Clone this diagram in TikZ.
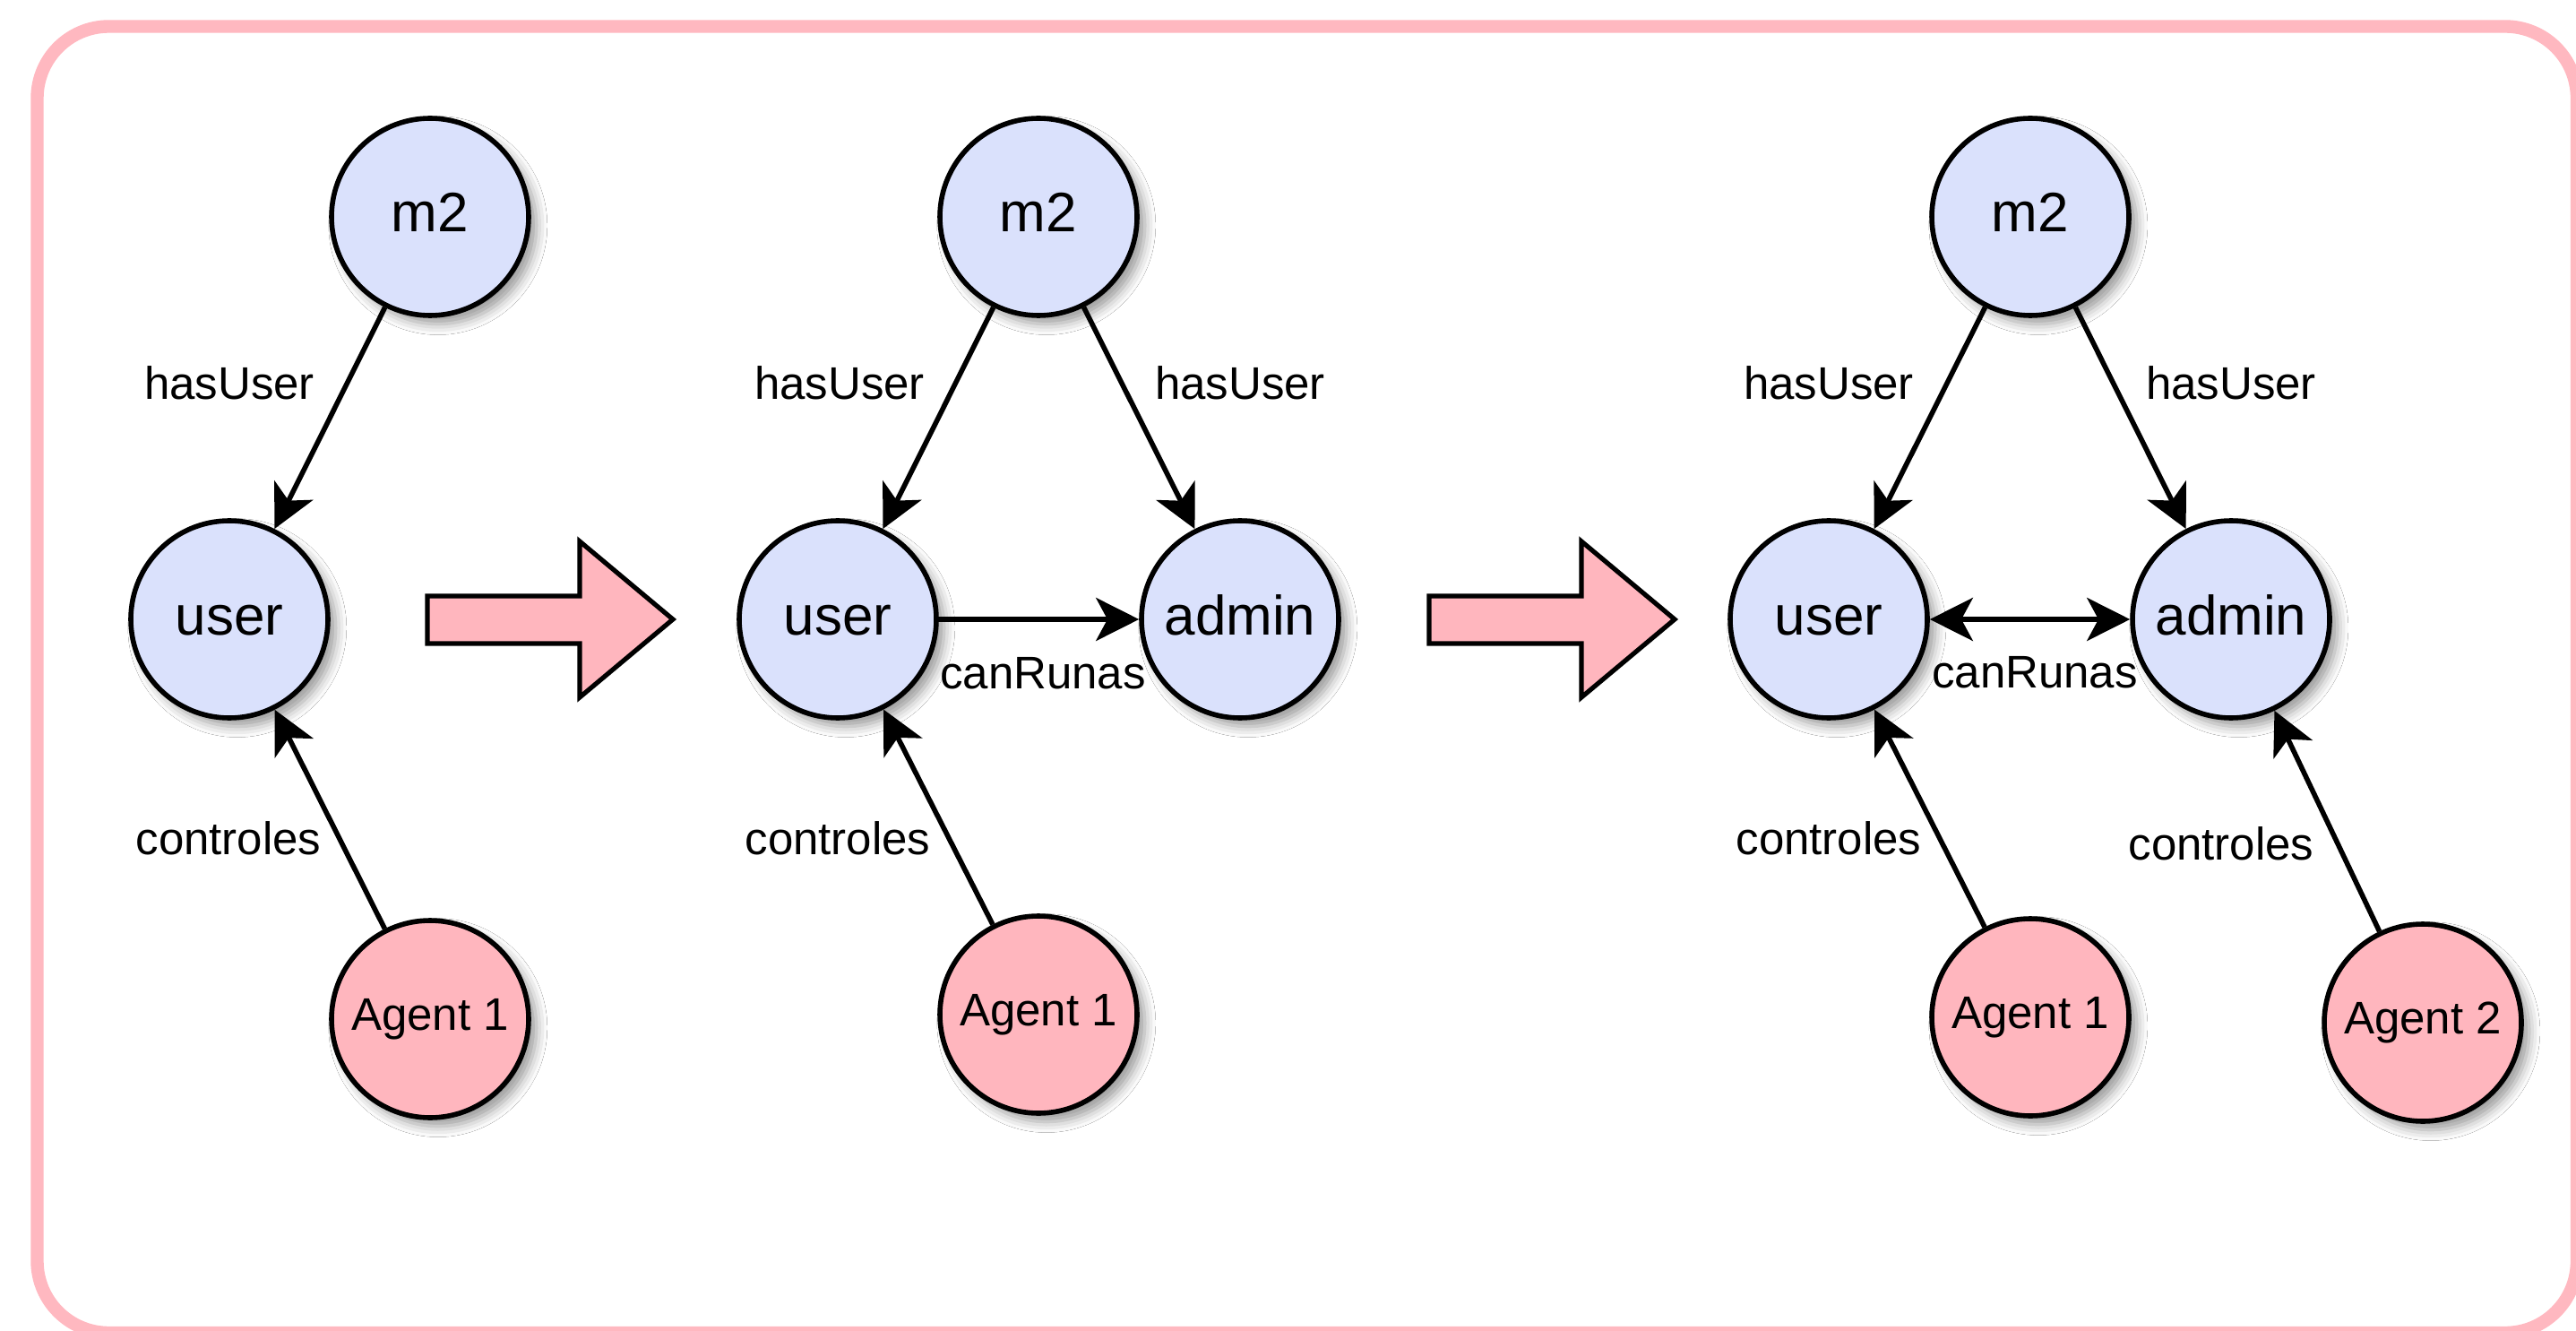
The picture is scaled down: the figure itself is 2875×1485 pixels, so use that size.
\documentclass[tikz,border=0pt]{standalone}
\usepackage{fontspec}
\setmainfont{Liberation Sans}
\usetikzlibrary{arrows.meta,shadows.blur}
\definecolor{nodeblue}{HTML}{DAE1FC}
\definecolor{agentpink}{HTML}{FFB6BE}
\definecolor{framepink}{HTML}{FFB8C0}
\begin{document}
\begin{tikzpicture}[x=0.25pt,y=-0.25pt,
  ent/.style={circle, draw=black, line width=1.4pt, minimum size=55pt, inner sep=0pt,
    font=\fontsize{15.5}{18}\selectfont, text height=8.5pt, text depth=0pt,
    blur shadow={shadow xshift=2.2pt, shadow yshift=-2.4pt, shadow blur radius=3pt, shadow opacity=40}},
  entity/.style={ent, fill=nodeblue},
  agent/.style={ent, fill=agentpink, font=\fontsize{12.75}{15}\selectfont, text height=6pt},
  lbl/.style={font=\fontsize{12.75}{15}\selectfont, inner sep=0pt},
  rel/.style={line width=1.4pt, -{Stealth[length=12pt,width=12pt,inset=3.2pt]}},
  relboth/.style={line width=1.4pt, {Stealth[length=12pt,width=12pt,inset=3.2pt]}-{Stealth[length=12pt,width=12pt,inset=3.2pt]}},
  bigarrow/.style={draw=black, line width=1.3pt, fill=agentpink, line join=miter},
]
\useasboundingbox (0,0) rectangle (2875,1485);
\fill[white] (0,0) rectangle (2875,1485);
\draw[framepink, line width=3.6pt, rounded corners=20pt] (41.5,29.5) rectangle (2876,1487);

% big arrows
\draw[bigarrow] (477,665) -- (647,665) -- (647,604) -- (751,691) -- (647,778) -- (647,718) -- (477,718) -- cycle;
\draw[bigarrow] (1595,665) -- (1765,665) -- (1765,604) -- (1869,691) -- (1765,778) -- (1765,718) -- (1595,718) -- cycle;

% panel 1
\node[entity] (m2a) at (480,242) {m2};
\node[entity] (usera) at (256,691) {user};
\node[agent] (agenta) at (480,1137) {Agent 1};
% panel 2
\node[entity] (m2b) at (1159,242) {m2};
\node[entity] (userb) at (935,691) {user};
\node[entity] (adminb) at (1384,691) {admin};
\node[agent] (agentb) at (1159,1132) {Agent 1};
% panel 3
\node[entity] (m2c) at (2266,242) {m2};
\node[entity] (userc) at (2041,691) {user};
\node[entity] (adminc) at (2490,691) {admin};
\node[agent] (agentc) at (2266,1135) {Agent 1};
\node[agent] (agentd) at (2704,1141) {Agent 2};

% edges
\draw[rel] (m2a) -- (usera);
\draw[rel] (agenta) -- (usera);
\draw[rel] (m2b) -- (userb);
\draw[rel] (m2b) -- (adminb);
\draw[rel] (userb) -- (adminb);
\draw[rel] (agentb) -- (userb);
\draw[rel] (m2c) -- (userc);
\draw[rel] (m2c) -- (adminc);
\draw[relboth] (userc) -- (adminc);
\draw[rel] (agentc) -- (userc);
\draw[rel] (agentd) -- (adminc);

% labels
\node[lbl] (l1) at (256,427) {hasUser};
\node[lbl] (l2) at (255,935) {controles};
\node[lbl] (l3) at (937,427) {hasUser};
\node[lbl] (l4) at (1384,427) {hasUser};
\node[lbl] (l5) at (1164,751) {canRunas};
\node[lbl] (l6) at (935,935) {controles};
\node[lbl] (l7) at (2041,427) {hasUser};
\node[lbl] (l8) at (2490,427) {hasUser};
\node[lbl] (l9) at (2271,750) {canRunas};
\node[lbl] (l10) at (2041,935) {controles};
\node[lbl] (l11) at (2479,941) {controles};
\end{tikzpicture}
\end{document}
